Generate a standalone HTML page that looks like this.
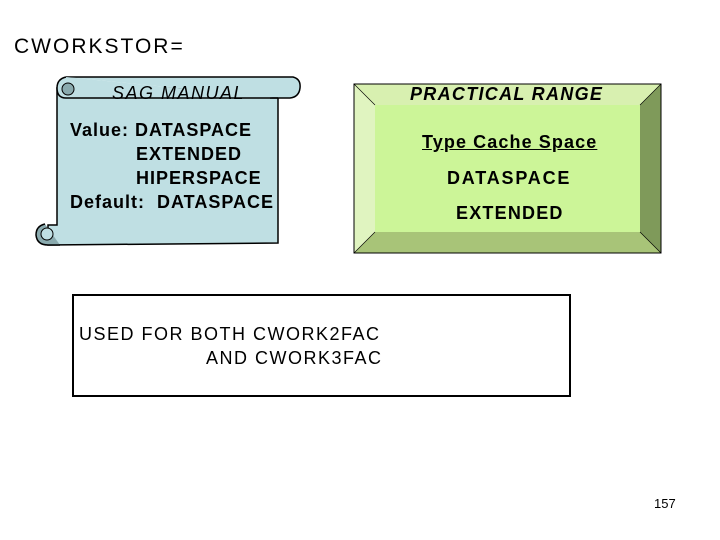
<!DOCTYPE html>
<html><head><style>
body{margin:0;width:720px;height:540px;background:#fff;position:relative;overflow:hidden;font-family:"Liberation Sans",sans-serif;}
.t{position:absolute;white-space:nowrap;color:#000;}
</style></head><body>
<svg width="720" height="540" style="position:absolute;left:0;top:0">
 <path d="M57,88 L278,88 L278,243 L48,245 L48,225 L57,225 Z" fill="#bfdfe3" stroke="#000" stroke-width="1.5"/>
 <path d="M66,77 L293,77 Q301,79 300,88 Q299,97 290,98 L270,98 L278,98" fill="#bfdfe3" stroke="#000" stroke-width="1.5"/>
 <path d="M66,77 Q57,79 57,88 Q57,98 66,98 L278,98" fill="#bfdfe3" stroke="#000" stroke-width="1.5"/>
 <circle cx="68" cy="89" r="6" fill="#8aaaae" stroke="#000" stroke-width="1"/>
 <path d="M45,224 Q36,226 36,235 Q37,245 48,245 L60,245" fill="#8aaaae" stroke="#000" stroke-width="1.5"/>
 <circle cx="47" cy="234" r="6" fill="#bfdfe3" stroke="#000" stroke-width="1"/>
 <polygon points="354,84 661,84 640,105 375,105" fill="#d8f0b0"/>
 <polygon points="354,84 375,105 375,232 354,253" fill="#e0f4c0"/>
 <polygon points="661,84 661,253 640,232 640,105" fill="#7f9a5a"/>
 <polygon points="354,253 661,253 640,232 375,232" fill="#a8c478"/>
 <rect x="375" y="105" width="265" height="127" fill="#ccf598"/>
 <rect x="354" y="84" width="307" height="169" fill="none" stroke="#000" stroke-width="1"/>
 <g stroke="#000" stroke-width="0.6"><line x1="354" y1="84" x2="375" y2="105"/><line x1="661" y1="84" x2="640" y2="105"/><line x1="354" y1="253" x2="375" y2="232"/><line x1="661" y1="253" x2="640" y2="232"/></g>
 <rect x="73" y="295" width="497" height="101" fill="#fff" stroke="#000" stroke-width="2"/>
</svg>
<div class="t" style="left:14px;top:35px;font-size:21px;letter-spacing:2px">CWORKSTOR=</div>
<div class="t" style="left:112px;top:83px;font-size:18px;font-style:italic;letter-spacing:1.5px">SAG MANUAL</div>
<div class="t" style="left:70px;top:118px;font-size:18px;line-height:24px;font-weight:bold;letter-spacing:1px">Value: DATASPACE<br><span style="padding-left:66px">EXTENDED</span><br><span style="padding-left:66px">HIPERSPACE</span><br>Default:&nbsp; DATASPACE</div>
<div class="t" style="left:410px;top:84px;font-size:18px;font-style:italic;font-weight:bold;letter-spacing:1.3px">PRACTICAL RANGE</div>
<div class="t" style="left:422px;top:132px;font-size:18px;font-weight:bold;text-decoration:underline;letter-spacing:1.1px">Type Cache Space</div>
<div class="t" style="left:447px;top:168px;font-size:18px;font-weight:bold;letter-spacing:1.8px">DATASPACE</div>
<div class="t" style="left:456px;top:203px;font-size:18px;font-weight:bold;letter-spacing:1.2px">EXTENDED</div>
<div class="t" style="left:79px;top:322px;font-size:18px;line-height:24px;letter-spacing:1.5px">USED FOR BOTH CWORK2FAC<br><span style="padding-left:127px">AND CWORK3FAC</span></div>
<div class="t" style="left:654px;top:496px;font-size:13px">157</div>
</body></html>
